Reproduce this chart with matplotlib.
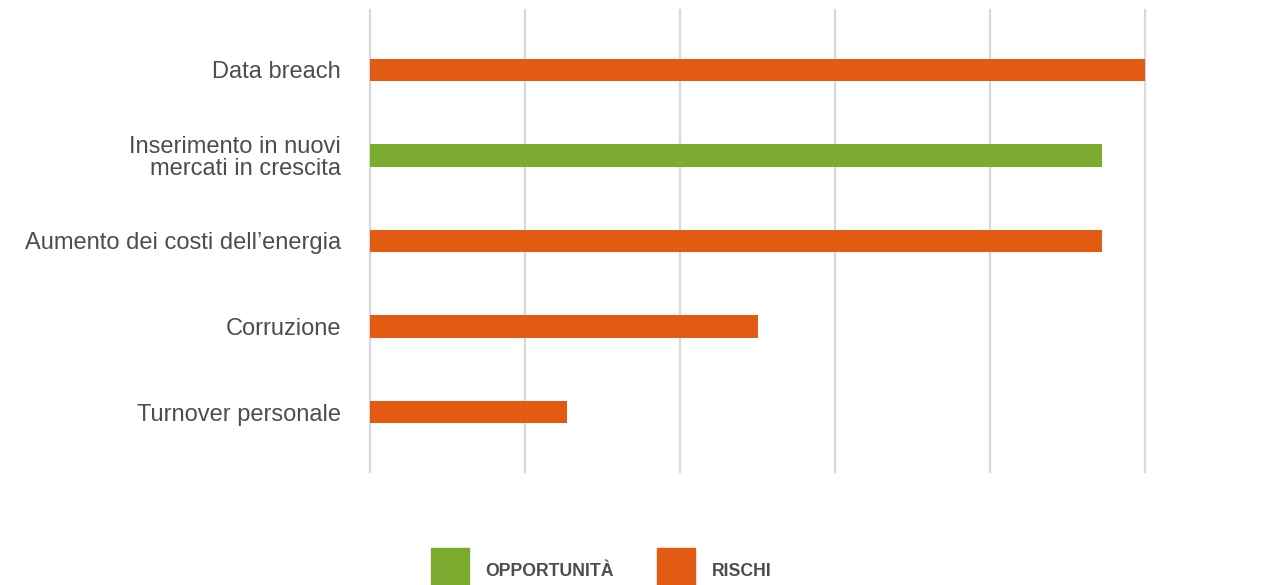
import matplotlib.pyplot as plt
from matplotlib.patches import Rectangle

# Data
categories = ["Data breach", "Inserimento in nuovi\nmercati in crescita",
              "Aumento dei costi dell\u2019energia", "Corruzione", "Turnover personale"]
values = [5.0, 4.72, 4.72, 2.5, 1.27]
kinds = ["RISCHI", "OPPORTUNITÀ", "RISCHI", "RISCHI", "RISCHI"]

colors = {"OPPORTUNITÀ": "#7AAB2E", "RISCHI": "#E35A12"}
text_color = "#4D4D4D"

plt.rcParams["font.family"] = ["Liberation Sans", "DejaVu Sans"]

fig = plt.figure(figsize=(12.87, 5.85), dpi=100)
ax = fig.add_axes([370 / 1287, 1 - 472 / 585, (1145 - 370) / 1287, (472 - 10) / 585])

ypos = list(range(len(categories)))
ax.barh(ypos, values, height=0.26, color=[colors[k] for k in kinds], zorder=2)

ax.set_xlim(0, 5)
ax.set_ylim(len(categories) - 1 + 0.7, -0.7)
ax.set_xticks(range(6))
ax.xaxis.grid(True, color="#D8D8DC", linewidth=1.6, zorder=0)
for gl in ax.get_xgridlines():
    gl.set_clip_on(False)
ax.tick_params(axis="x", length=0, labelbottom=False)
ax.tick_params(axis="y", length=0, pad=21)
ax.set_yticks(ypos)
ax.set_yticklabels(categories, fontsize=17, color=text_color, ha="right",
                   multialignment="right", linespacing=1.0)
for s in ax.spines.values():
    s.set_visible(False)

# Legend drawn at the bottom
legend_items = [("OPPORTUNITÀ", 431, 485), ("RISCHI", 657, 712)]
for name, x_patch, x_text in legend_items:
    fig.add_artist(Rectangle((x_patch / 1287, 0), 38 / 1287, 37 / 585,
                             transform=fig.transFigure, color=colors[name]))
    fig.text(x_text / 1287, 1 - 571 / 585, name, fontsize=12.7, fontweight="bold",
             color=text_color, va="center", ha="left")

fig.savefig("out.png", dpi=100, facecolor="white")
